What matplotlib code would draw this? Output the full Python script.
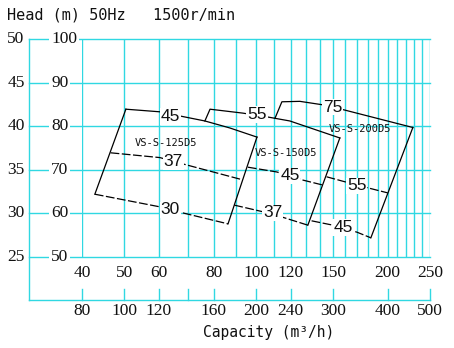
import matplotlib
matplotlib.use('Agg')
import matplotlib.pyplot as plt
import matplotlib.transforms as mtransforms

# capacity grid / tick values (L/s on the chart, m3/h on the lower scale)
grid_q = list(range(40, 260, 10))
tick_q = [40, 50, 60, 70, 80, 100, 120, 150, 200, 250]
label_q = ['40', '50', '60', '', '80', '100', '120', '150', '200', '250']
label_m3h = ['80', '100', '120', '', '160', '200', '240', '300', '400', '500']

# head scales
grid_h = [100, 90, 80, 70, 60, 50]
label_h_outer = ['50', '45', '40', '35', '30', '25']
label_h_inner = ['100', '90', '80', '70', '60', '50']

# VS-S-125D5
m125_top_q = [50.4, 60.3, 68.1, 76.4, 87.1, 100.5]
m125_top_h = [83.9, 83.3, 82.2, 81.2, 79.6, 77.5]
m125_mid_q = [46.5, 60.3, 69.5, 93.2]
m125_mid_h = [73.9, 72.8, 71.1, 67.7]
m125_bot_q = [42.8, 60.3, 68.1, 86.3]
m125_bot_h = [64.4, 61.5, 60.1, 57.6]

# VS-S-150D5
m150_top_q = [76.4, 78.5, 93.3, 106.5, 119.5, 155.5]
m150_top_h = [81.2, 83.9, 83.0, 82.1, 81.2, 77.3]
m150_mid_q = [95.8, 111.6, 127.3, 142.2]
m150_mid_h = [70.6, 69.5, 67.7, 66.5]
m150_bot_q = [89.2, 108.7, 131.4]
m150_bot_h = [61.9, 59.9, 57.3]

# VS-S-200D5
m200_top_q = [110.5, 114.6, 126.0, 142.2, 159.6, 228.4]
m200_top_h = [81.8, 85.6, 85.7, 84.9, 83.7, 79.7]
m200_mid_q = [145.0, 170.1, 200.2]
m200_mid_h = [68.4, 66.5, 64.7]
m200_bot_q = [134.0, 149.9, 170.1, 183.1]
m200_bot_h = [58.3, 57.3, 55.7, 54.4]

# curve labels (power kW)
kw_labels = ['45', '37', '30', '55', '45', '37', '75', '55', '45']
kw_q = [63.6, 64.6, 63.6, 100.5, 119.5, 109.3, 149.9, 170.1, 158.0]
kw_h = [82.3, 71.8, 60.8, 82.6, 68.6, 60.1, 84.4, 66.3, 56.7]

models = ['VS-S-125D5', 'VS-S-150D5', 'VS-S-200D5']
model_q = [62.2, 117.0, 172.8]
model_h = [76.1, 73.9, 79.4]

cyan = '#30d8e2'
W, H = 454, 348
fig = plt.figure(figsize=(W / 100, H / 100), dpi=100)
ax = fig.add_axes([82 / W, 1 - 257 / H, 348 / W, 218 / H])
ax.set_xscale('log')
ax.set_xlim(40, 250)
ax.set_ylim(50, 100)
ax.axis('off')

yx = mtransforms.blended_transform_factory(ax.transAxes, ax.transData)
xy = mtransforms.blended_transform_factory(ax.transData, ax.transAxes)
x_out = (29 - 82) / 348
y_out = (257 - 300) / 218

for q in grid_q:
    ax.axvline(q, color=cyan, lw=1.0, zorder=1)
for h in grid_h:
    ax.plot([x_out, 1], [h, h], transform=yx, color=cyan, lw=1.0, clip_on=False, zorder=1)
ax.plot([x_out, x_out], [1, y_out], transform=ax.transAxes, color=cyan, lw=1.0, clip_on=False)
ax.plot([x_out, 1], [y_out, y_out], transform=ax.transAxes, color=cyan, lw=1.0, clip_on=False)
for q in tick_q:
    ax.plot([q, q], [y_out, y_out + 11 / 218], transform=xy, color=cyan, lw=1.0, clip_on=False)

num_font = dict(family='Liberation Serif', fontsize=12.5, color='#111111')
for h, lo, li in zip(grid_h, label_h_outer, label_h_inner):
    ax.text((16 - 82) / 348, h, lo, transform=yx, ha='center', va='center', **num_font)
    ax.text((51 - 82) / 348, h, li, transform=yx, ha='left', va='center', zorder=3,
            bbox=dict(boxstyle='square,pad=0.12', fc='white', ec='none'), **num_font)
for q, l1, l2 in zip(tick_q, label_q, label_m3h):
    ax.text(q, (257 - 273) / 218, l1, transform=xy, ha='center', va='center', **num_font)
    ax.text(q, (257 - 311) / 218, l2, transform=xy, ha='center', va='center', **num_font)

mono = dict(family='DejaVu Sans Mono', color='#111111')
fig.text(7 / W, 1 - 15 / H, 'Head (m) 50Hz   1500r/min', ha='left', va='center', fontsize=11, **mono)
fig.text(269 / W, 1 - 333 / H, 'Capacity (m\u00b3/h)', ha='center', va='center', fontsize=10.5, **mono)

# envelopes
solid = dict(color='black', lw=0.9, zorder=2)
dash = dict(color='black', lw=0.9, zorder=2, dashes=(7, 2))
curves = [(m125_top_q, m125_top_h, solid), (m125_mid_q, m125_mid_h, dash), (m125_bot_q, m125_bot_h, dash),
          (m150_top_q, m150_top_h, solid), (m150_mid_q, m150_mid_h, dash), (m150_bot_q, m150_bot_h, dash),
          (m200_top_q, m200_top_h, solid), (m200_mid_q, m200_mid_h, dash), (m200_bot_q, m200_bot_h, dash)]
for q, h, st in curves:
    ax.plot(q, h, **st)
# side edges
ax.plot([m125_top_q[0], m125_bot_q[0]], [m125_top_h[0], m125_bot_h[0]], **solid)
ax.plot([m125_top_q[-1], m125_bot_q[-1]], [m125_top_h[-1], m125_bot_h[-1]], **solid)
ax.plot([m150_top_q[-1], m150_bot_q[-1]], [m150_top_h[-1], m150_bot_h[-1]], **solid)
ax.plot([m200_top_q[-1], m200_bot_q[-1]], [m200_top_h[-1], m200_bot_h[-1]], **solid)

for t, q, h in zip(kw_labels, kw_q, kw_h):
    ax.text(q, h, t, ha='center', va='center', fontsize=12.5, family='Liberation Sans',
            color='#111111', zorder=4, bbox=dict(boxstyle='square,pad=0.05', fc='white', ec='none'))
for t, q, h in zip(models, model_q, model_h):
    ax.text(q, h, t, ha='center', va='center', fontsize=7.5, zorder=4, **mono)

fig.savefig('out.png', dpi=100)
